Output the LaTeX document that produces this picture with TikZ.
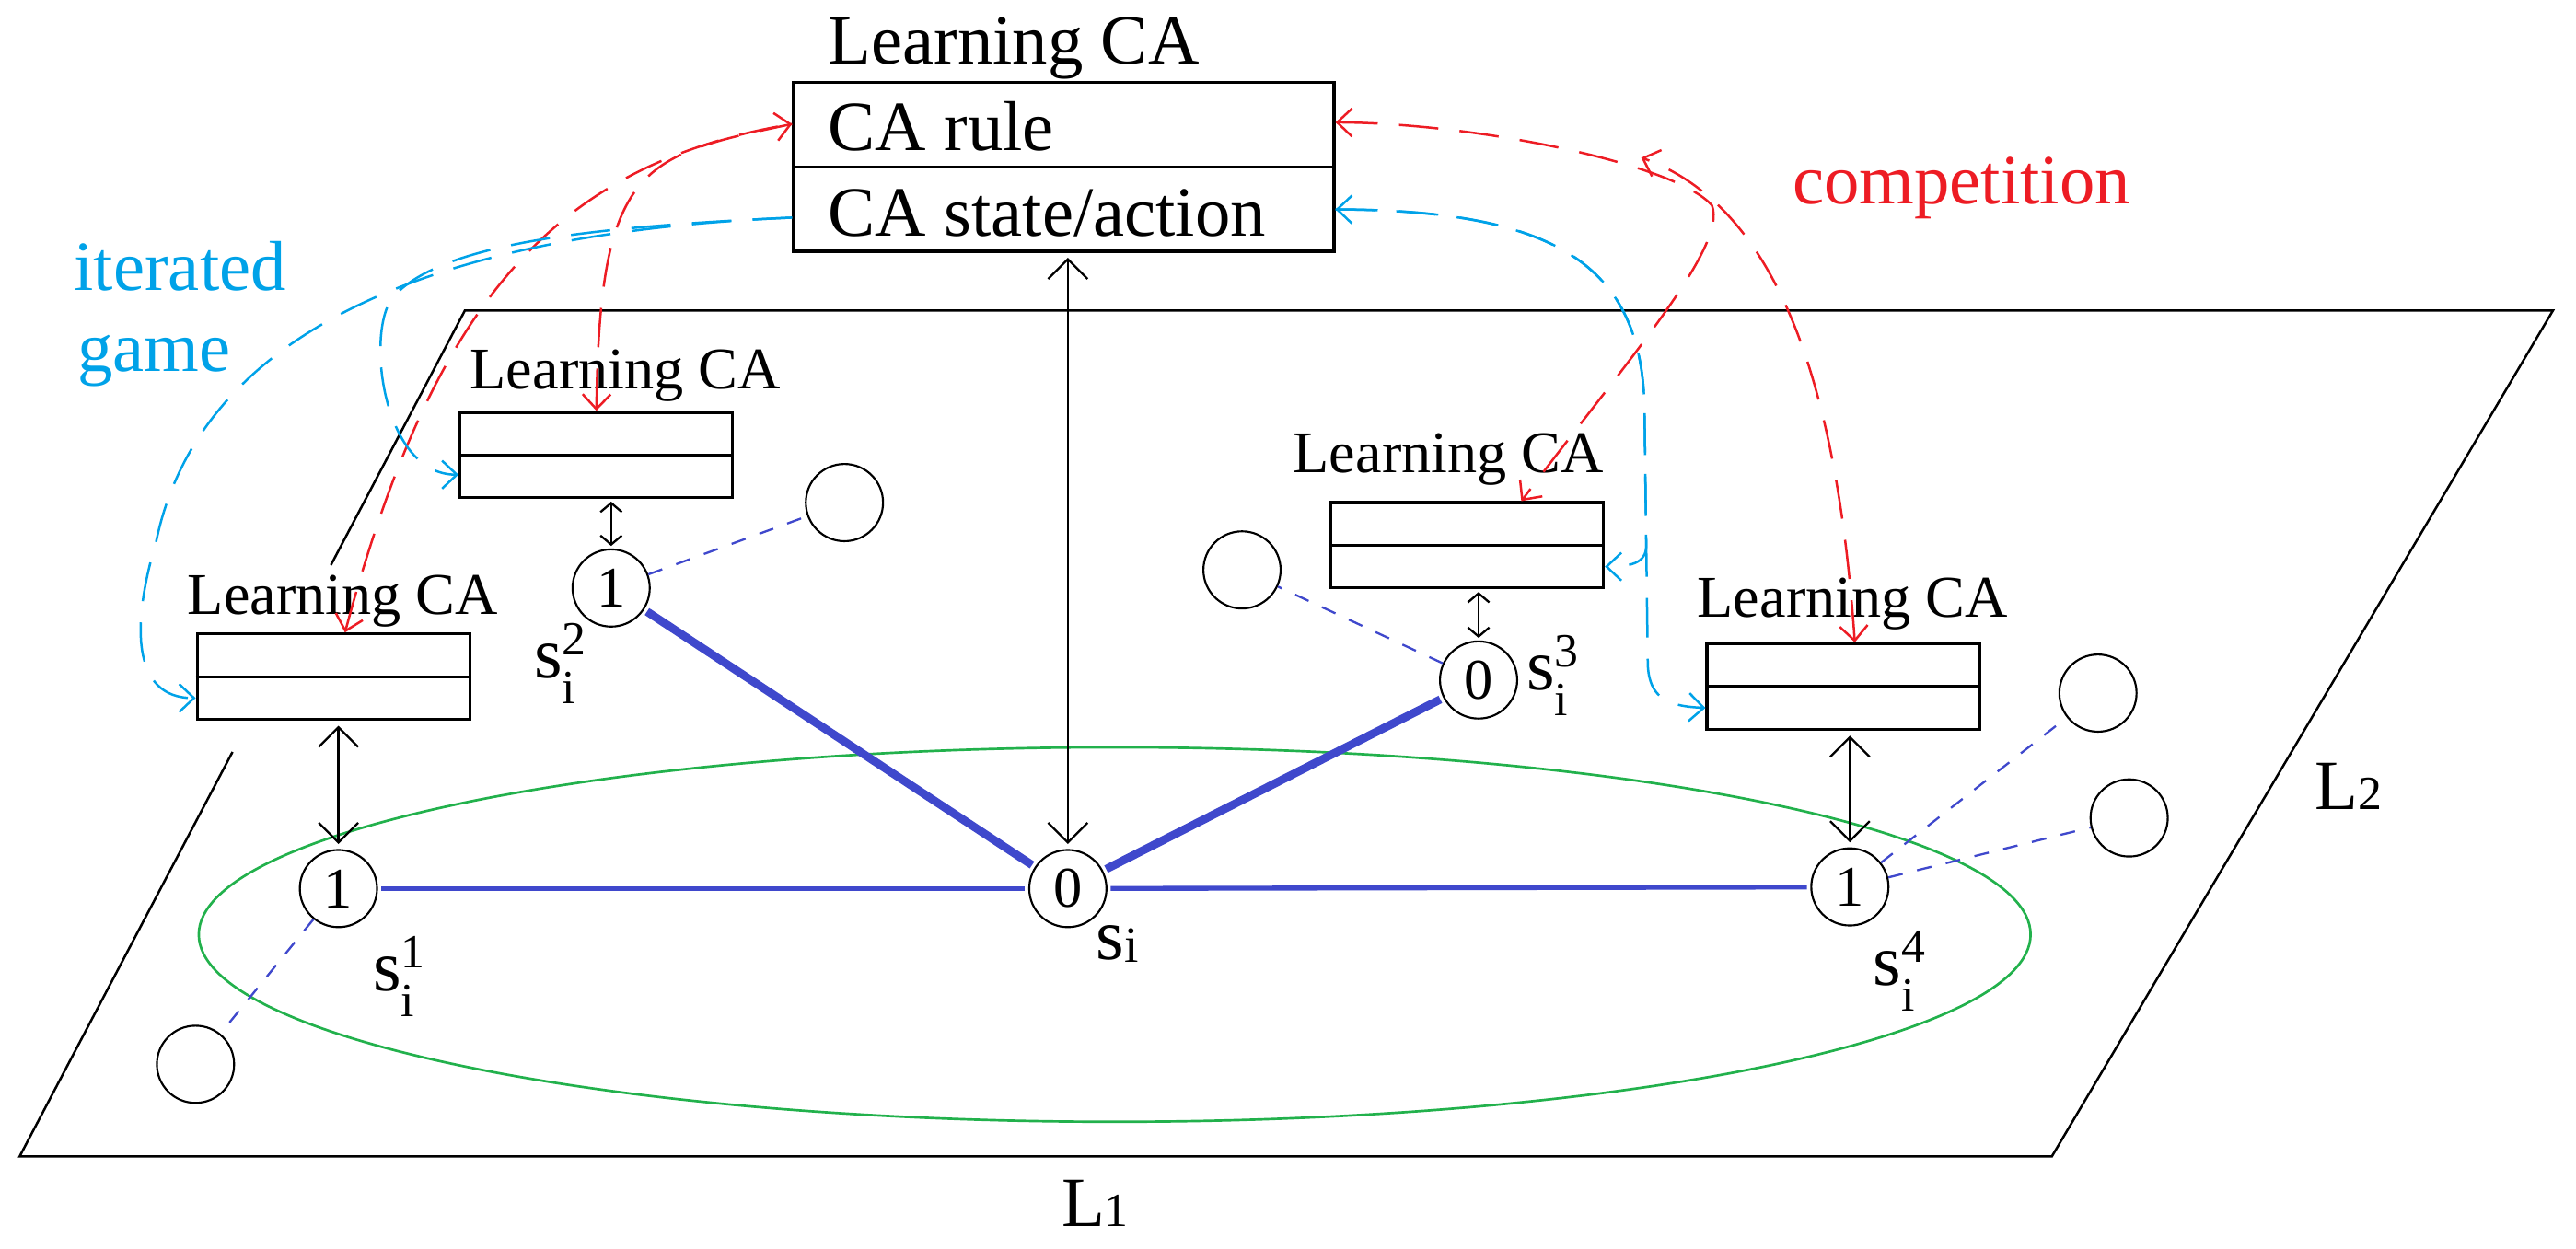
\documentclass[tikz,border=0pt]{standalone}
\usepackage{fontspec}
\setmainfont{Liberation Serif}
\usepackage{xcolor}
\definecolor{PaintRed}{RGB}{237,28,36}
\definecolor{PaintCyan}{RGB}{0,162,232}
\definecolor{PaintIndigo}{RGB}{63,72,204}
\definecolor{PaintGreen}{RGB}{34,177,76}
\usepackage{tikz}
\usetikzlibrary{arrows.meta,calc}
\newcommand{\idxfont}{\fontsize{29}{29}\selectfont}
\newcommand{\stlabel}[1]{s\rlap{\raisebox{14pt}{\idxfont #1}}\raisebox{-15.5pt}{\idxfont i}}
\tikzset{
  >={Straight Barb[length=12pt,width=24pt]},
  cbarb/.tip={Straight Barb[length=9pt,width=17pt]},
  plane/.style={draw=black, line width=1.4pt},
  maintext/.style={font=\fontsize{43}{48}\selectfont, inner sep=0pt, anchor=base west},
  catitle/.style={font=\fontsize{36}{40}\selectfont, inner sep=0pt, anchor=base west},
  slabel/.style={font=\fontsize{44}{44}\selectfont, inner sep=0pt, anchor=base west},
  cabox/.style={draw, line width=1.8pt, minimum width=166pt, minimum height=52pt, inner sep=0pt},
  cell/.style={circle, draw, line width=1.2pt, fill=white, minimum size=47pt, inner sep=0pt,
    font=\fontsize{35}{35}\selectfont},
  tie/.style={draw=PaintIndigo, line width=3pt, shorten <=2pt, shorten >=2pt},
  strongtie/.style={draw=PaintIndigo, line width=5pt, shorten <=2pt, shorten >=2pt},
  nbtie/.style={draw=PaintIndigo, line width=1.3pt, dash pattern=on 9pt off 9pt},
  updown/.style={<->, line width=1.3pt, shorten <=3pt, shorten >=3pt},
  shortupdown/.style={{Straight Barb[length=5.5pt,width=13pt]}-{Straight Barb[length=5.5pt,width=13pt]},
    line width=1.3pt, shorten <=1.5pt, shorten >=1.5pt},
  gameline/.style={draw=PaintCyan, line width=1.4pt, dash pattern=on 24pt off 13pt},
  compline/.style={draw=PaintRed, line width=1.4pt, dash pattern=on 24pt off 13pt}
}
\begin{document}
\begin{tikzpicture}[x=1pt, y=-1pt]
  \useasboundingbox (0,0) rectangle (1568,760);

  \coordinate (pA) at (12,704);
  \coordinate (pB) at (1249,704);
  \coordinate (pC) at (1554,189);
  \coordinate (pD) at (283,189);
  \draw[plane] ($(pA)!0.699!(pD)$) -- (pD) -- (pC) -- (pB) -- (pA) -- ($(pA)!0.478!(pD)$);
  \node[maintext] (L1) at (646,746.5) {L{\idxfont 1}};
  \node[maintext] (L2) at (1409,492.6) {L{\idxfont 2}};

  \draw[PaintGreen, line width=1.5pt] (678.5,569) ellipse [x radius=557.5, y radius=114];

  \node[draw, line width=1.8pt, minimum width=329pt, minimum height=103pt, inner sep=0pt] (lca) at (647.5,101.5) {};
  \draw[line width=1.8pt] (lca.west) -- (lca.east);
  \node[maintext] (lcatitle) at (504,39) {Learning CA};
  \node[maintext] (rule) at (504,91.6) {CA rule};
  \node[maintext] (action) at (504,144) {CA state/action};

  \node[cabox] (ca1) at (203,412) {};
  \node[cabox] (ca2) at (363,277) {};
  \node[cabox] (ca3) at (893,332) {};
  \node[cabox] (ca4) at (1122,418) {};
  \foreach \b in {ca1,ca2,ca3,ca4}
    \draw[line width=1.8pt] (\b.west) -- (\b.east);
  \node[catitle] (t1) at (114,374) {Learning CA};
  \node[catitle] (t2) at (286,237) {Learning CA};
  \node[catitle] (t3) at (787,288) {Learning CA};
  \node[catitle] (t4) at (1033,376) {Learning CA};

  \node[cell] (s1) at (206,541) {1};
  \node[cell] (s0) at (650,541) {0};
  \node[cell] (s2) at (372,358) {1};
  \node[cell] (s3) at (900,414) {0};
  \node[cell] (s4) at (1126,540) {1};
  \node[cell] (nb1) at (119,648) {};
  \node[cell] (nb2) at (514,306) {};
  \node[cell] (nb3) at (756,347) {};
  \node[cell] (nb4) at (1277,422) {};
  \node[cell] (nb5) at (1296,498) {};

  \node[slabel] (l1) at (227,603.5) {\stlabel{1}};
  \node[slabel] (l2) at (325,413) {\stlabel{2}};
  \node[slabel] (l3) at (929,420) {\stlabel{3}};
  \node[slabel] (l4) at (1140,600) {\stlabel{4}};
  \node[slabel] (l0) at (667,584) {s\raisebox{-2pt}{\fontsize{31}{31}\selectfont i}};

  \draw[tie] (s1) -- (s0);
  \draw[tie] (s0) -- (s4);
  \draw[strongtie] (s0) -- (s2);
  \draw[strongtie] (s0) -- (s3);
  \foreach \a/\b in {s1/nb1, s2/nb2, s3/nb3, s4/nb4, s4/nb5}
    \draw[nbtie] (\a) -- (\b);

  \foreach \s/\b in {s0/lca, s1/ca1, s4/ca4}
    \draw[updown] (\s.north) -- (\s.north |- \b.south);
  \foreach \s/\b in {s2/ca2, s3/ca3}
    \draw[shortupdown] (\s.north) -- (\s.north |- \b.south);

  \node[maintext, text=PaintRed] (comp) at (1091,124) {competition};
  \node[maintext, text=PaintCyan] (iter) at (45,177) {iterated};
  \node[maintext, text=PaintCyan] (game) at (47,226) {game};

  \draw[compline, cbarb-cbarb] ([xshift=7pt]ca1.north) .. controls (265,180) and (340,100) .. ([yshift=26pt]lca.west);
  \draw[compline, cbarb-] (ca2.north) .. controls (365,100) and (390,95) .. ([yshift=26pt]lca.west);
  \draw[compline, cbarb-cbarb] ([yshift=27pt]lca.east) .. controls (900,75) and (1020,100) .. (1042,125)
    .. controls (1052,150) and (990,220) .. ([xshift=33pt]ca3.north);
  \coordinate (merge) at (999,96);
  \draw[compline, cbarb-cbarb] ([xshift=7pt]ca4.north) .. controls (1118,230) and (1080,125) .. (merge);

  \draw[gameline, -cbarb] ([yshift=-31pt]lca.west) .. controls (300,140) and (125,185) .. (95,330)
    .. controls (80,380) and (80,425) .. ([yshift=-13pt]ca1.west);
  \draw[gameline, -cbarb] ([yshift=-31pt]lca.west) .. controls (360,138) and (270,148) .. (240,180)
    .. controls (222,199) and (232,289) .. ([yshift=-12pt]ca2.west);
  \draw[gameline, cbarb-cbarb] ([yshift=-26pt]lca.east) .. controls (945,128) and (1000,160) .. (1001,250)
    -- (1003,405) .. controls (1004,425) and (1015,430) .. ([yshift=-13pt]ca4.west);
  \draw[gameline, -cbarb] ([yshift=-26pt]lca.east) .. controls (945,128) and (1000,160) .. (1001,250)
    -- (1002,330) .. controls (1003,342) and (995,345) .. ([yshift=-13pt]ca3.east);
\end{tikzpicture}
\end{document}
